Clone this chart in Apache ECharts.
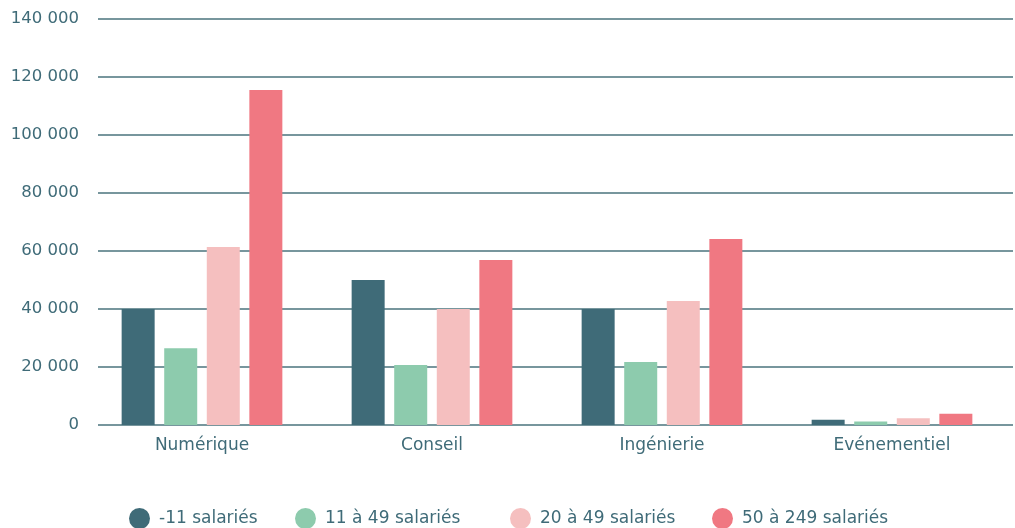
<!DOCTYPE html>
<html><head><meta charset="utf-8">
<script src="https://cdn.jsdelivr.net/npm/echarts@6/dist/echarts.min.js"></script>
<style>html,body{margin:0;padding:0;background:#fff}#c{width:1015px;height:528px}</style>
</head><body><div id="c"></div>
<script>
const categories = ['Numérique', 'Conseil', 'Ingénierie', 'Evénementiel'];
const seriesNames = ['-11 salariés', '11 à 49 salariés', '20 à 49 salariés', '50 à 249 salariés'];
const sMoins11 = [40000, 50000, 40000, 1800];
const s11a49 = [26500, 20700, 21700, 1200];
const s20a49 = [61400, 40000, 42800, 2300];
const s50a249 = [115500, 56900, 64100, 3900];
const colors = ['#3F6B78', '#8DCBAD', '#F5BFBF', '#F07882'];
const yMin = 0, yMax = 140000, yInterval = 20000;

const seriesData = [sMoins11, s11a49, s20a49, s50a249];
const txt = '#3F6B78';
const font = 'DejaVu Sans';
const legendLefts = [129, 295, 510, 712];

const chart = echarts.init(document.getElementById('c'), null, {renderer: 'canvas'});
chart.setOption({
  animation: false,
  grid: [
    {left: 87, right: 8, top: 19, bottom: 103},
    {left: 98, right: 2, top: 19, bottom: 103}
  ],
  xAxis: [
    {type: 'category', gridIndex: 0, data: categories,
     axisLine: {show: false}, axisTick: {show: false},
     axisLabel: {color: txt, fontSize: 17, fontFamily: font, margin: 12}},
    {type: 'category', gridIndex: 1, data: categories, show: false}
  ],
  yAxis: [
    {type: 'value', gridIndex: 0, min: yMin, max: yMax, interval: yInterval, show: false, splitLine: {show: false}},
    {type: 'value', gridIndex: 1, min: yMin, max: yMax, interval: yInterval,
     axisLine: {show: false}, axisTick: {show: false},
     axisLabel: {color: txt, fontSize: 16.5, fontFamily: font, margin: 19,
       formatter: v => String(v).replace(/\B(?=(\d{3})+(?!\d))/g, ' ')},
     splitLine: {lineStyle: {color: '#4A737D', width: 1.5}}}
  ],
  legend: seriesNames.map((n, i) => ({
    data: [n], left: legendLefts[i], top: 508, icon: 'circle',
    itemWidth: 21, itemHeight: 21, itemGap: 0, padding: 0,
    textStyle: {color: txt, fontSize: 17, fontFamily: font, padding: [0, 0, 0, 4]}
  })),
  series: seriesNames.map((n, i) => ({
    name: n, type: 'bar', xAxisIndex: 0, yAxisIndex: 0,
    data: seriesData[i], barWidth: 33, barGap: '29%',
    itemStyle: {color: colors[i]}, z: 3
  }))
});
</script></body></html>
